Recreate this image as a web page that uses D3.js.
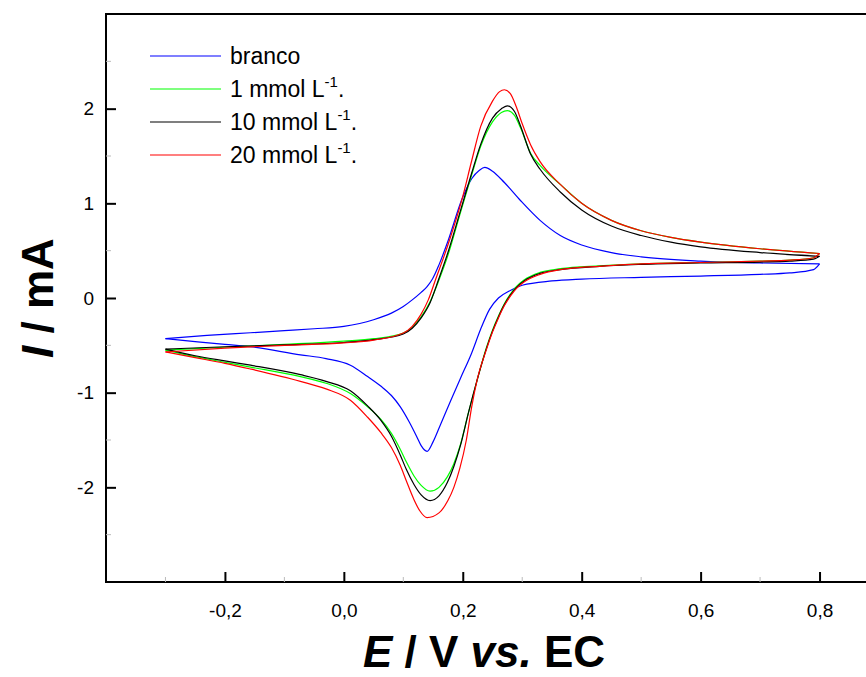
<!DOCTYPE html>
<html>
<head>
<meta charset="utf-8">
<script src="https://cdn.jsdelivr.net/npm/d3@7"></script>
<style>
  body { margin: 0; background: #fff; }
  svg { display: block; font-family: "Liberation Sans", Arial, sans-serif; }
</style>
</head>
<body>
<div id="chart"></div>
<script>
// cyclic voltammograms, [E (V), I (mA)]; forward scan -0.3 -> 0.8, reverse 0.8 -> -0.3
const brancoFwd = [[-0.3,-0.43],[-0.23,-0.395],[-0.157,-0.367],[-0.1,-0.345],[-0.05,-0.325],[0,-0.3],[0.05,-0.23],[0.08,-0.16],[0.1,-0.09],[0.115,-0.02],[0.13,0.06],[0.14,0.12],[0.149,0.2],[0.16,0.35],[0.175,0.6],[0.199,1.05],[0.215,1.26],[0.228,1.35],[0.237,1.38],[0.25,1.34],[0.27,1.22],[0.297,1.03],[0.33,0.82],[0.364,0.66],[0.4,0.56],[0.45,0.48],[0.5,0.435],[0.6,0.39],[0.7,0.37],[0.8,0.36]];
const brancoRev = [[0.8,0.36],[0.79,0.3],[0.75,0.265],[0.7,0.25],[0.6,0.232],[0.5,0.218],[0.4,0.2],[0.35,0.18],[0.3,0.135],[0.28,0.08],[0.26,0],[0.245,-0.12],[0.23,-0.33],[0.215,-0.58],[0.196,-0.85],[0.18,-1.08],[0.163,-1.33],[0.15,-1.52],[0.14,-1.62],[0.13,-1.56],[0.123,-1.47],[0.11,-1.31],[0.095,-1.15],[0.08,-1.03],[0.062,-0.93],[0.04,-0.83],[0.011,-0.71],[-0.03,-0.64],[-0.073,-0.6],[-0.157,-0.515],[-0.2,-0.49],[-0.25,-0.46],[-0.3,-0.43]];

const c1Fwd = [[-0.3,-0.55],[-0.2,-0.52],[-0.1,-0.49],[0,-0.455],[0.05,-0.43],[0.1,-0.37],[0.115,-0.31],[0.13,-0.2],[0.145,-0.04],[0.16,0.19],[0.175,0.45],[0.196,0.9],[0.215,1.3],[0.23,1.6],[0.25,1.86],[0.265,1.96],[0.275,1.98],[0.287,1.93],[0.297,1.8],[0.314,1.53],[0.33,1.4],[0.364,1.2],[0.4,1.0],[0.45,0.82],[0.5,0.71],[0.55,0.64],[0.6,0.59],[0.7,0.52],[0.8,0.47]];
const c1Rev = [[0.8,0.47],[0.79,0.425],[0.75,0.4],[0.7,0.39],[0.6,0.375],[0.5,0.36],[0.43,0.34],[0.364,0.31],[0.33,0.27],[0.303,0.19],[0.29,0.12],[0.28,0.04],[0.27,-0.06],[0.26,-0.19],[0.25,-0.34],[0.24,-0.52],[0.224,-0.87],[0.21,-1.2],[0.196,-1.55],[0.185,-1.75],[0.174,-1.89],[0.16,-2.0],[0.145,-2.04],[0.13,-1.98],[0.118,-1.88],[0.105,-1.73],[0.095,-1.6],[0.08,-1.43],[0.062,-1.28],[0.04,-1.15],[0.011,-1.01],[-0.03,-0.9],[-0.073,-0.83],[-0.157,-0.73],[-0.2,-0.68],[-0.25,-0.62],[-0.3,-0.55]];

const c10Fwd = [[-0.3,-0.54],[-0.2,-0.515],[-0.1,-0.495],[0,-0.47],[0.05,-0.44],[0.1,-0.38],[0.115,-0.32],[0.13,-0.21],[0.145,-0.05],[0.159,0.19],[0.175,0.48],[0.196,0.92],[0.215,1.32],[0.23,1.62],[0.25,1.9],[0.265,2.0],[0.275,2.03],[0.287,1.97],[0.297,1.82],[0.314,1.52],[0.33,1.36],[0.364,1.12],[0.4,0.93],[0.45,0.76],[0.5,0.66],[0.55,0.59],[0.6,0.54],[0.7,0.48],[0.8,0.44]];
const c10Rev = [[0.8,0.44],[0.79,0.41],[0.75,0.39],[0.7,0.38],[0.6,0.37],[0.5,0.355],[0.43,0.335],[0.364,0.3],[0.33,0.26],[0.303,0.18],[0.29,0.11],[0.28,0.03],[0.27,-0.07],[0.26,-0.2],[0.25,-0.35],[0.24,-0.53],[0.224,-0.87],[0.21,-1.2],[0.196,-1.56],[0.185,-1.78],[0.174,-1.95],[0.16,-2.09],[0.145,-2.14],[0.13,-2.08],[0.118,-1.97],[0.105,-1.81],[0.095,-1.66],[0.08,-1.46],[0.062,-1.29],[0.04,-1.14],[0.011,-0.98],[-0.03,-0.88],[-0.073,-0.81],[-0.157,-0.71],[-0.2,-0.665],[-0.25,-0.61],[-0.3,-0.54]];

const c20Fwd = [[-0.3,-0.57],[-0.2,-0.53],[-0.1,-0.5],[0,-0.475],[0.05,-0.445],[0.1,-0.37],[0.115,-0.3],[0.13,-0.17],[0.142,-0.02],[0.154,0.19],[0.175,0.56],[0.199,1.05],[0.215,1.45],[0.23,1.81],[0.25,2.08],[0.262,2.18],[0.27,2.2],[0.28,2.16],[0.29,2.02],[0.3,1.84],[0.314,1.62],[0.33,1.44],[0.364,1.2],[0.4,1.0],[0.45,0.82],[0.5,0.71],[0.55,0.64],[0.6,0.59],[0.7,0.52],[0.8,0.47]];
const c20Rev = [[0.8,0.47],[0.79,0.425],[0.75,0.4],[0.7,0.39],[0.6,0.375],[0.5,0.36],[0.43,0.335],[0.364,0.3],[0.33,0.25],[0.303,0.17],[0.29,0.1],[0.28,0.02],[0.27,-0.08],[0.26,-0.21],[0.25,-0.36],[0.24,-0.54],[0.224,-0.87],[0.215,-1.15],[0.206,-1.5],[0.195,-1.8],[0.185,-2.0],[0.175,-2.14],[0.16,-2.27],[0.14,-2.32],[0.128,-2.25],[0.118,-2.13],[0.105,-1.93],[0.095,-1.77],[0.08,-1.58],[0.062,-1.42],[0.04,-1.26],[0.011,-1.08],[-0.03,-0.96],[-0.073,-0.88],[-0.157,-0.75],[-0.2,-0.69],[-0.25,-0.63],[-0.3,-0.57]];

const seriesNames = ['branco', '1 mmol L', '10 mmol L', '20 mmol L'];
const seriesColors = ['#0000ff', '#00ff00', '#000000', '#ff0000'];
const seriesData = [[brancoFwd, brancoRev], [c1Fwd, c1Rev], [c10Fwd, c10Rev], [c20Fwd, c20Rev]];

const xTicks = [-0.2, 0, 0.2, 0.4, 0.6, 0.8];
const xMinor = [-0.3, -0.1, 0.1, 0.3, 0.5, 0.7];
const yTicks = [-2, -1, 0, 1, 2];
const yMinor = [-2.5, -1.5, -0.5, 0.5, 1.5, 2.5];

const width = 866, height = 677;
const svg = d3.select('#chart').append('svg')
    .attr('width', width)
    .attr('height', height);

const x = d3.scaleLinear().domain([-0.4, 0.9]).range([106, 879]);
const y = d3.scaleLinear().domain([-3, 3]).range([582, 14]);

// plot frame (right side falls outside the picture)
svg.append('rect')
    .attr('x', x(-0.4)).attr('y', y(3))
    .attr('width', x(0.9) - x(-0.4)).attr('height', y(-3) - y(3))
    .attr('fill', 'none').attr('stroke', '#000').attr('stroke-width', 2);

// minor ticks, faint
svg.selectAll('.xminor').data(xMinor).enter().append('line')
    .attr('x1', (d) => x(d)).attr('x2', (d) => x(d))
    .attr('y1', y(-3)).attr('y2', y(-3) - 5)
    .attr('stroke', '#bbb').attr('stroke-width', 1);
svg.selectAll('.yminor').data(yMinor).enter().append('line')
    .attr('x1', x(-0.4)).attr('x2', x(-0.4) + 5)
    .attr('y1', (d) => y(d)).attr('y2', (d) => y(d))
    .attr('stroke', '#bbb').attr('stroke-width', 1);

const fmt = (d) => d3.format('.1f')(d).replace('.', ',').replace('−', '-');

const xAxis = d3.axisBottom(x).tickValues(xTicks).tickSize(-10).tickPadding(22).tickFormat(fmt);
const gx = svg.append('g').attr('transform', `translate(0,${y(-3)})`).call(xAxis);
gx.select('.domain').remove();
gx.selectAll('line').attr('stroke', '#000').attr('stroke-width', 2);
gx.selectAll('text').attr('fill', '#000').style('font-size', '19px')
    .style('font-family', '"Liberation Sans Narrow", "Liberation Sans", Arial, sans-serif');

const yAxis = d3.axisLeft(y).tickValues(yTicks).tickSize(-10).tickPadding(12)
    .tickFormat((d) => String(d).replace('−', '-'));
const gy = svg.append('g').attr('transform', `translate(${x(-0.4)},0)`).call(yAxis);
gy.select('.domain').remove();
gy.selectAll('line').attr('stroke', '#000').attr('stroke-width', 2);
gy.selectAll('text').attr('fill', '#000').style('font-size', '19px');

// curves
const line = d3.line()
    .x((d) => x(d[0]))
    .y((d) => y(d[1]))
    .curve(d3.curveMonotoneX);

seriesData.forEach((branches, i) => {
    branches.forEach((b) => {
        svg.append('path')
            .attr('d', line(b))
            .attr('fill', 'none')
            .attr('stroke', seriesColors[i])
            .attr('stroke-width', 1.2);
    });
});

// legend
const legendY = [56, 89, 122, 155];
seriesNames.forEach((name, i) => {
    svg.append('line')
        .attr('x1', 150).attr('x2', 221)
        .attr('y1', legendY[i]).attr('y2', legendY[i])
        .attr('stroke', seriesColors[i]).attr('stroke-width', 1.2);
    const t = svg.append('text')
        .attr('x', 230).attr('y', legendY[i] + 8)
        .style('font-size', '23px').attr('fill', '#000');
    t.append('tspan').text(name);
    if (i > 0) {
        t.append('tspan').attr('dy', -10).style('font-size', '15px').text('-1');
        t.append('tspan').attr('dy', 10).text('.');
    }
});

// axis titles
const xt = svg.append('text')
    .attr('x', 484).attr('y', 667)
    .attr('text-anchor', 'middle')
    .style('font-size', '44px').style('font-weight', 'bold');
xt.append('tspan').style('font-style', 'italic').text('E');
xt.append('tspan').text(' / V ');
xt.append('tspan').style('font-style', 'italic').text('vs.');
xt.append('tspan').text(' EC');

const yt = svg.append('text')
    .attr('transform', 'translate(53,298) rotate(-90)')
    .attr('text-anchor', 'middle')
    .style('font-size', '44px').style('font-weight', 'bold');
yt.append('tspan').style('font-style', 'italic').text('I');
yt.append('tspan').text(' / mA');
</script>
</body>
</html>
